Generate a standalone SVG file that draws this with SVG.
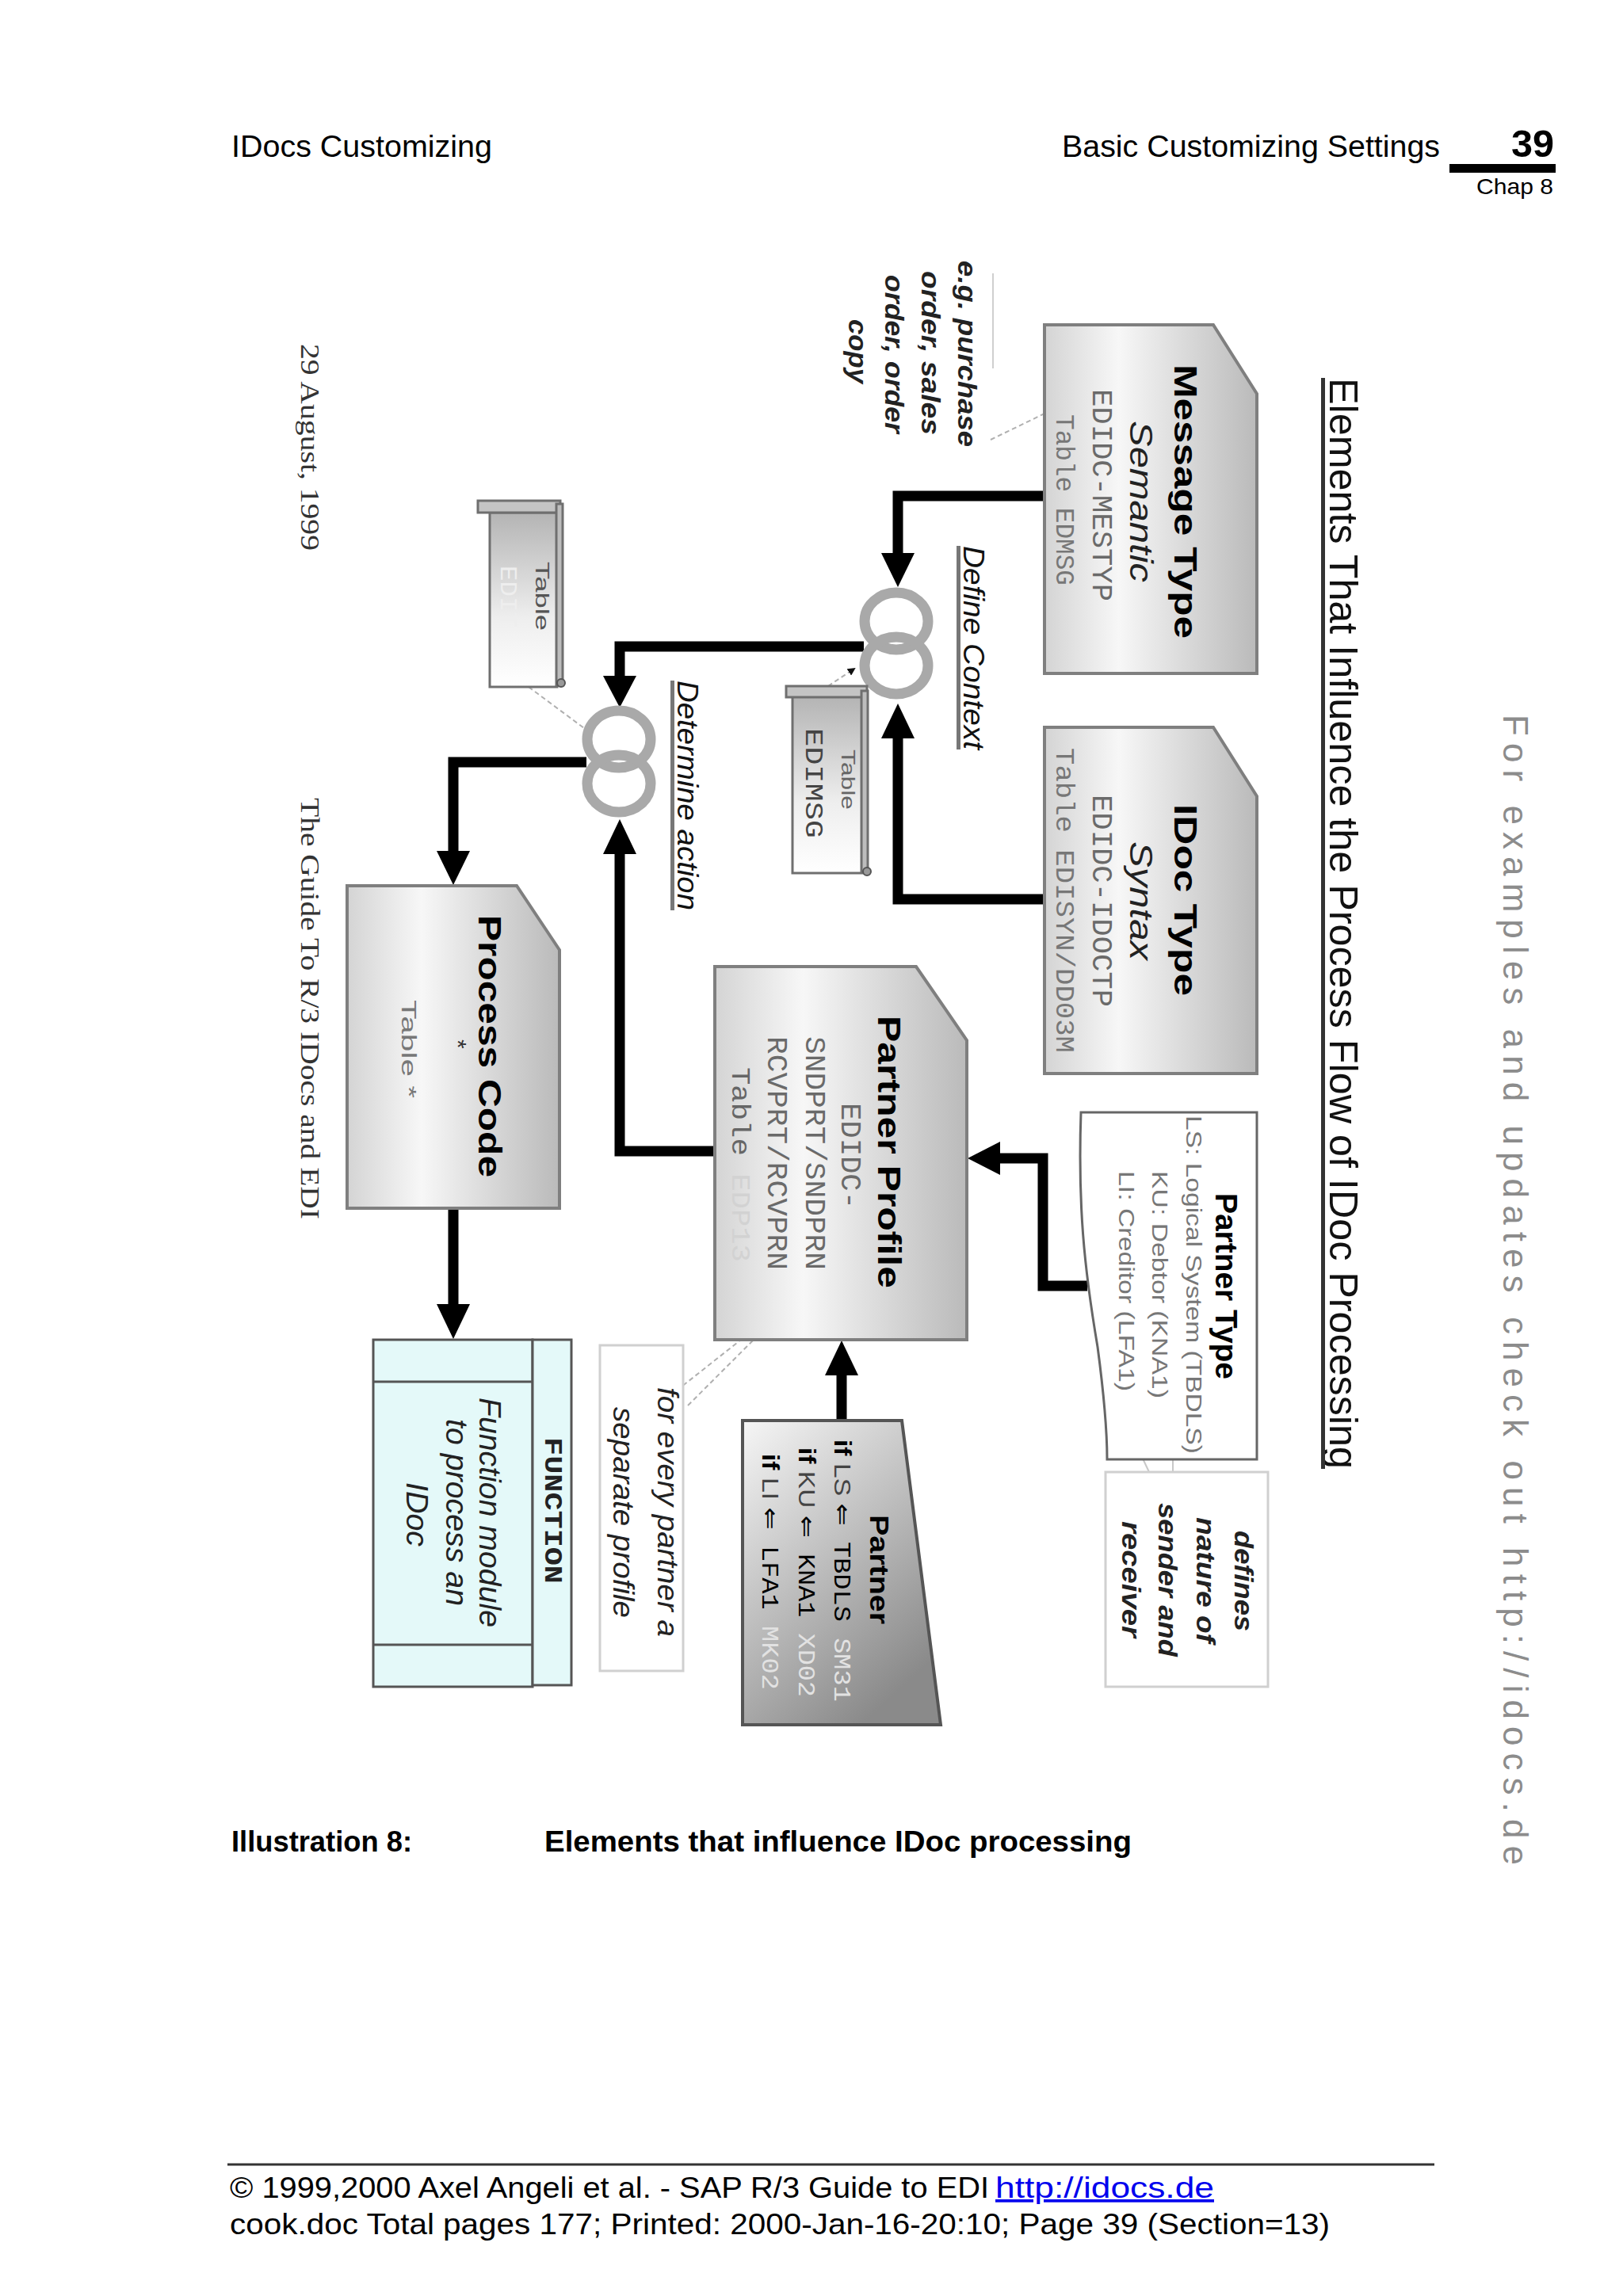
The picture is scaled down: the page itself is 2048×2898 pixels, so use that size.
<svg xmlns="http://www.w3.org/2000/svg" width="2048" height="2898" viewBox="0 0 2048 2898">
<defs>
<style>
.sans{font-family:"Liberation Sans",Arial,sans-serif}
.serif{font-family:"Liberation Serif","Times New Roman",serif}
.mono{font-family:"Liberation Mono","Courier New",monospace}
.b{font-weight:bold}
.i{font-style:italic}
.box{stroke:#7f7f7f;stroke-width:4}
.conn{stroke:#000;stroke-width:13;fill:none;stroke-linejoin:miter}
.head{fill:#000}
.ring{fill:none;stroke:#a9a9a9;stroke-width:13}
.thin{stroke:#b0b0b0;stroke-width:2;fill:none;stroke-dasharray:6 4}
.note{fill:#fff;stroke:#d0d0d0;stroke-width:3}
.scroll{stroke:#6f6f6f;stroke-width:3}
.gray{fill:#6a6a6a}
</style>
<linearGradient id="gBox" x1="0" y1="0" x2="1" y2="0">
<stop offset="0" stop-color="#d4d4d4"/>
<stop offset="0.35" stop-color="#f7f7f7"/>
<stop offset="1" stop-color="#bababa"/>
</linearGradient>
<linearGradient id="gPartner" x1="0" y1="0" x2="0.6" y2="1">
<stop offset="0" stop-color="#f6f6f6"/>
<stop offset="1" stop-color="#8a8a8a"/>
</linearGradient>
<linearGradient id="gScroll" x1="0" y1="0" x2="0" y2="1">
<stop offset="0" stop-color="#b4b4b4"/>
<stop offset="0.6" stop-color="#eeeeee"/>
<stop offset="1" stop-color="#ffffff"/>
</linearGradient>
<marker id="mSmall" markerWidth="10" markerHeight="10" refX="8" refY="5" orient="auto" markerUnits="userSpaceOnUse">
<path d="M0,0 L10,5 L0,10 Z" fill="#111"/>
</marker>
</defs>

<rect x="0" y="0" width="2048" height="2898" fill="#fff"/>

<!-- page header -->
<g id="header" class="sans">
<text x="292" y="198" font-size="38" textLength="329" lengthAdjust="spacingAndGlyphs">IDocs Customizing</text>
<text x="1340" y="198" font-size="38" textLength="477" lengthAdjust="spacingAndGlyphs">Basic Customizing Settings</text>
<text x="1907" y="198" font-size="48" class="b" textLength="54" lengthAdjust="spacingAndGlyphs">39</text>
<rect x="1829" y="207" width="134" height="11" fill="#000"/>
<text x="1863" y="245" font-size="28" textLength="97" lengthAdjust="spacingAndGlyphs">Chap 8</text>
</g>

<!-- watermark -->
<text id="watermark" class="sans" font-size="44" fill="#8c8c8c" transform="translate(1897 902) rotate(90)" textLength="1452" lengthAdjust="spacing">For examples and updates check out http://idocs.de</text>

<!-- title -->
<g id="title">
<text class="sans" font-size="50" fill="#111" transform="translate(1678 477) rotate(90)" textLength="1377" lengthAdjust="spacingAndGlyphs">Elements That Influence the Process Flow of IDoc Processing</text>
<rect x="1667" y="477" width="5" height="1377" fill="#333"/>
</g>

<!-- left margin texts -->
<g id="margin" class="serif" fill="#333">
<text font-size="34" transform="translate(380 434) rotate(90)" textLength="261" lengthAdjust="spacingAndGlyphs">29 August, 1999</text>
<text font-size="34" transform="translate(380 1007) rotate(90)" textLength="532" lengthAdjust="spacingAndGlyphs">The Guide To R/3 IDocs and EDI</text>
</g>

<!-- connectors -->
<g id="connectors">
<path class="conn" d="M1318,626 H1133 V700"/>
<polygon class="head" points="1112,698 1154,698 1133,741"/>
<path class="conn" d="M1318,1135 H1133 V930"/>
<polygon class="head" points="1112,932 1154,932 1133,888"/>
<path class="conn" d="M1090,816 H782 V855"/>
<polygon class="head" points="761,853 803,853 782,893"/>
<path class="conn" d="M740,962 H572 V1076"/>
<polygon class="head" points="551,1074 593,1074 572,1117"/>
<path class="conn" d="M572,1525 V1648"/>
<polygon class="head" points="551,1646 593,1646 572,1690"/>
<path class="conn" d="M904,1453 H782 V1076"/>
<polygon class="head" points="761,1078 803,1078 782,1034"/>
<path class="conn" d="M1372,1623 H1316 V1462 H1260"/>
<polygon class="head" points="1262,1441 1262,1483 1221,1462"/>
<path class="conn" d="M1062,1795 V1734"/>
<polygon class="head" points="1041,1736 1083,1736 1062,1692"/>
<line class="thin" x1="1045" y1="866" x2="1078" y2="844" marker-end="url(#mSmall)"/>
<line class="thin" x1="667" y1="867" x2="745" y2="925" marker-end="url(#mSmall)"/>
<line x1="1253" y1="345" x2="1253" y2="465" stroke="#cfcfcf" stroke-width="2"/>
<line class="thin" x1="1250" y1="555" x2="1318" y2="522" stroke="#dddddd"/>
<line class="thin" x1="854" y1="1755" x2="959" y2="1672" stroke="#d4d4d4"/>
<line class="thin" x1="868" y1="1774" x2="979" y2="1663" stroke="#d4d4d4"/>
<polyline points="1480,1858 1480,1800" stroke="#c8c8c8" stroke-width="2" fill="none"/>
<polyline points="1450,1858 1418,1790" stroke="#c8c8c8" stroke-width="2" fill="none"/>
</g>

<!-- Message Type -->
<g id="message-type">
<path class="box" fill="url(#gBox)" d="M1318,410 L1531,410 L1586,497 L1586,850 L1318,850 Z"/>
<text class="sans b" font-size="40" transform="translate(1482 460) rotate(90)" textLength="346" lengthAdjust="spacingAndGlyphs">Message Type</text>
<text class="sans i" font-size="40" fill="#222" transform="translate(1426 531) rotate(90)" textLength="204" lengthAdjust="spacingAndGlyphs">Semantic</text>
<text class="mono gray" font-size="36" transform="translate(1379 491) rotate(90)" textLength="268" lengthAdjust="spacingAndGlyphs">EDIDC-MESTYP</text>
<text class="mono" fill="#777" font-size="34" transform="translate(1333 523) rotate(90)" textLength="216" lengthAdjust="spacingAndGlyphs">Table EDMSG</text>
</g>

<!-- IDoc Type -->
<g id="idoc-type">
<path class="box" fill="url(#gBox)" d="M1318,918 L1531,918 L1586,1005 L1586,1355 L1318,1355 Z"/>
<text class="sans b" font-size="40" transform="translate(1482 1015) rotate(90)" textLength="242" lengthAdjust="spacingAndGlyphs">IDoc Type</text>
<text class="sans i" font-size="40" fill="#222" transform="translate(1426 1062) rotate(90)" textLength="150" lengthAdjust="spacingAndGlyphs">Syntax</text>
<text class="mono gray" font-size="36" transform="translate(1379 1003) rotate(90)" textLength="268" lengthAdjust="spacingAndGlyphs">EDIDC-IDOCTP</text>
<text class="mono" fill="#777" font-size="34" transform="translate(1333 944) rotate(90)" textLength="385" lengthAdjust="spacingAndGlyphs">Table EDISYN/DD03M</text>
</g>

<!-- e.g. note -->
<g id="eg-note" class="sans i b" fill="#222" font-size="34">
<text transform="translate(1209 329) rotate(90)" textLength="235" lengthAdjust="spacingAndGlyphs">e.g. purchase</text>
<text transform="translate(1163 342) rotate(90)" textLength="207" lengthAdjust="spacingAndGlyphs">order, sales</text>
<text transform="translate(1117 347) rotate(90)" textLength="200" lengthAdjust="spacingAndGlyphs">order, order</text>
<text transform="translate(1071 403) rotate(90)" textLength="81" lengthAdjust="spacingAndGlyphs">copy</text>
</g>

<!-- Define Context -->
<g id="define-context">
<ellipse class="ring" cx="1131" cy="784" rx="40" ry="36"/>
<ellipse class="ring" cx="1131" cy="840" rx="40" ry="36"/>
<rect x="1207" y="689" width="5" height="257" fill="#777"/>
<text class="sans i" font-size="36" fill="#111" transform="translate(1216 689) rotate(90)" textLength="257" lengthAdjust="spacingAndGlyphs">Define Context</text>
</g>

<!-- Table EDIMSG -->
<g id="table-edimsg">
<rect class="scroll" x="1000" y="879" width="88" height="223" fill="url(#gScroll)"/>
<rect class="scroll" x="992" y="866" width="102" height="14" fill="#c4c4c4"/>
<rect class="scroll" x="1087" y="872" width="8" height="228" fill="#bdbdbd"/>
<circle cx="1094" cy="1100" r="5" fill="#999" stroke="#555" stroke-width="2"/>
<text class="sans" font-size="24" fill="#666" transform="translate(1062 946) rotate(90)" textLength="76" lengthAdjust="spacingAndGlyphs">Table</text>
<text class="mono" font-size="32" fill="#444" transform="translate(1017 919) rotate(90)" textLength="139" lengthAdjust="spacingAndGlyphs">EDIMSG</text>
</g>

<!-- Table EDIT -->
<g id="table-edit">
<rect class="scroll" x="618" y="647" width="85" height="220" fill="url(#gScroll)"/>
<rect class="scroll" x="603" y="632" width="104" height="15" fill="#c4c4c4"/>
<rect class="scroll" x="702" y="636" width="8" height="229" fill="#bdbdbd"/>
<circle cx="708" cy="862" r="5" fill="#999" stroke="#555" stroke-width="2"/>
<text class="sans" font-size="24" fill="#555" transform="translate(676 709) rotate(90)" textLength="87" lengthAdjust="spacingAndGlyphs">Table</text>
<text class="mono" font-size="30" fill="#eeeeee" transform="translate(632 714) rotate(90)" textLength="78" lengthAdjust="spacingAndGlyphs">EDIT</text>
</g>

<!-- Determine action -->
<g id="determine-action">
<ellipse class="ring" cx="781" cy="933" rx="40" ry="36"/>
<ellipse class="ring" cx="781" cy="989" rx="40" ry="36"/>
<rect x="846" y="859" width="5" height="290" fill="#777"/>
<text class="sans i" font-size="36" fill="#111" transform="translate(855 859) rotate(90)" textLength="290" lengthAdjust="spacingAndGlyphs">Determine action</text>
</g>

<!-- Process Code -->
<g id="process-code">
<path class="box" fill="url(#gBox)" d="M438,1118 L652,1118 L706,1199 L706,1525 L438,1525 Z"/>
<text class="sans b" font-size="40" transform="translate(604 1155) rotate(90)" textLength="331" lengthAdjust="spacingAndGlyphs">Process Code</text>
<text class="sans" font-size="30" fill="#333" transform="translate(568 1312) rotate(90)">*</text>
<text class="sans" font-size="26" fill="#777" transform="translate(507 1262) rotate(90)" textLength="124" lengthAdjust="spacingAndGlyphs">Table  *</text>
</g>

<!-- Function module -->
<g id="function-module">
<rect x="471" y="1691" width="201" height="438" fill="#e4f9f9" stroke="#555" stroke-width="3"/>
<rect x="672" y="1691" width="49" height="436" fill="#e4f9f9" stroke="#555" stroke-width="3"/>
<line x1="471" y1="1744" x2="672" y2="1744" stroke="#555" stroke-width="3"/>
<line x1="471" y1="2076" x2="672" y2="2076" stroke="#555" stroke-width="3"/>
<text class="mono b" font-size="32" fill="#222" transform="translate(688 1814) rotate(90)" textLength="185" lengthAdjust="spacingAndGlyphs">FUNCTION</text>
<text class="sans i" font-size="38" fill="#222" transform="translate(605 1764) rotate(90)" textLength="290" lengthAdjust="spacingAndGlyphs">Function module</text>
<text class="sans i" font-size="38" fill="#222" transform="translate(563 1791) rotate(90)" textLength="236" lengthAdjust="spacingAndGlyphs">to process an</text>
<text class="sans i" font-size="38" fill="#222" transform="translate(513 1871) rotate(90)" textLength="81" lengthAdjust="spacingAndGlyphs">IDoc</text>
</g>

<!-- every partner note -->
<g id="every-partner-note">
<rect class="note" x="757" y="1698" width="105" height="411"/>
<text class="sans i" font-size="36" fill="#222" transform="translate(830 1751) rotate(90)" textLength="315" lengthAdjust="spacingAndGlyphs">for every partner a</text>
<text class="sans i" font-size="36" fill="#222" transform="translate(774 1776) rotate(90)" textLength="266" lengthAdjust="spacingAndGlyphs">separate profile</text>
</g>

<!-- Partner Profile -->
<g id="partner-profile">
<path class="box" fill="url(#gBox)" d="M902,1220 L1156,1220 L1220,1313 L1220,1691 L902,1691 Z"/>
<text class="sans b" font-size="40" transform="translate(1108 1282) rotate(90)" textLength="344" lengthAdjust="spacingAndGlyphs">Partner Profile</text>
<text class="mono gray" font-size="36" transform="translate(1062 1392) rotate(90)" textLength="134" lengthAdjust="spacingAndGlyphs">EDIDC-</text>
<text class="mono gray" font-size="36" transform="translate(1017 1308) rotate(90)" textLength="295" lengthAdjust="spacingAndGlyphs">SNDPRT/SNDPRN</text>
<text class="mono gray" font-size="36" transform="translate(969 1308) rotate(90)" textLength="295" lengthAdjust="spacingAndGlyphs">RCVPRT/RCVPRN</text>
<text class="mono" font-size="34" fill="#666" transform="translate(924 1347) rotate(90)" textLength="246" lengthAdjust="spacingAndGlyphs">Table <tspan fill="#d2d2d2">EDP13</tspan></text>
</g>

<!-- Partner Type -->
<g id="partner-type">
<path fill="#fff" stroke="#666" stroke-width="3" d="M1364,1404 L1586,1404 L1586,1842 L1397,1842 C1397,1800 1393,1760 1385,1700 C1368,1600 1360,1520 1364,1404 Z"/>
<text class="sans b" font-size="38" transform="translate(1534 1506) rotate(90)" textLength="235" lengthAdjust="spacingAndGlyphs">Partner Type</text>
<text class="sans" font-size="28" fill="#777" transform="translate(1497 1408) rotate(90)" textLength="427" lengthAdjust="spacingAndGlyphs">LS: Logical System (TBDLS)</text>
<text class="sans" font-size="28" fill="#777" transform="translate(1454 1478) rotate(90)" textLength="287" lengthAdjust="spacingAndGlyphs">KU: Debtor (KNA1)</text>
<text class="sans" font-size="28" fill="#777" transform="translate(1412 1478) rotate(90)" textLength="278" lengthAdjust="spacingAndGlyphs">LI: Creditor (LFA1)</text>
</g>

<!-- defines note -->
<g id="defines-note" class="sans i b" fill="#222" font-size="34">
<rect class="note" x="1395" y="1858" width="205" height="271"/>
<text transform="translate(1558 1932) rotate(90)" textLength="127" lengthAdjust="spacingAndGlyphs">defines</text>
<text transform="translate(1510 1915) rotate(90)" textLength="159" lengthAdjust="spacingAndGlyphs">nature of</text>
<text transform="translate(1462 1897) rotate(90)" textLength="194" lengthAdjust="spacingAndGlyphs">sender and</text>
<text transform="translate(1416 1920) rotate(90)" textLength="147" lengthAdjust="spacingAndGlyphs">receiver</text>
</g>

<!-- Partner -->
<g id="partner">
<path fill="url(#gPartner)" stroke="#555" stroke-width="4" d="M937,1793 L1138,1793 L1187,2177 L937,2177 Z"/>
<text class="sans b" font-size="34" transform="translate(1098 1912) rotate(90)" textLength="138" lengthAdjust="spacingAndGlyphs">Partner</text>
<text font-size="30" transform="translate(1053 1817) rotate(90)" textLength="331" lengthAdjust="spacingAndGlyphs"><tspan class="sans b">if</tspan><tspan class="sans" fill="#444"> LS </tspan><tspan font-family="DejaVu Sans,sans-serif">⇐</tspan><tspan class="mono"> TBDLS </tspan><tspan class="mono" fill="#e2e2e2">SM31</tspan></text>
<text font-size="30" transform="translate(1008 1827) rotate(90)" textLength="315" lengthAdjust="spacingAndGlyphs"><tspan class="sans b">if</tspan><tspan class="sans" fill="#444"> KU </tspan><tspan font-family="DejaVu Sans,sans-serif">⇐</tspan><tspan class="mono"> KNA1 </tspan><tspan class="mono" fill="#e2e2e2">XD02</tspan></text>
<text font-size="30" transform="translate(962 1835) rotate(90)" textLength="298" lengthAdjust="spacingAndGlyphs"><tspan class="sans b">if</tspan><tspan class="sans" fill="#444"> LI </tspan><tspan font-family="DejaVu Sans,sans-serif">⇐</tspan><tspan class="mono"> LFA1 </tspan><tspan class="mono" fill="#e2e2e2">MK02</tspan></text>
</g>

<!-- caption and footer -->
<g id="footer" class="sans">
<text x="292" y="2337" font-size="37" class="b" textLength="228" lengthAdjust="spacingAndGlyphs">Illustration 8:</text>
<text x="687" y="2337" font-size="37" class="b" textLength="741" lengthAdjust="spacingAndGlyphs">Elements that influence IDoc processing</text>
<line x1="287" y1="2732" x2="1810" y2="2732" stroke="#333" stroke-width="3"/>
<text x="290" y="2774" font-size="37" textLength="958" lengthAdjust="spacingAndGlyphs">© 1999,2000 Axel Angeli et al. - SAP R/3 Guide to EDI</text>
<text x="1256" y="2774" font-size="37" fill="#0000ee" text-decoration="underline" textLength="276" lengthAdjust="spacingAndGlyphs">http://idocs.de</text>
<text x="290" y="2820" font-size="37" textLength="1388" lengthAdjust="spacingAndGlyphs">cook.doc Total pages 177; Printed: 2000-Jan-16-20:10; Page 39 (Section=13)</text>
</g>
</svg>
